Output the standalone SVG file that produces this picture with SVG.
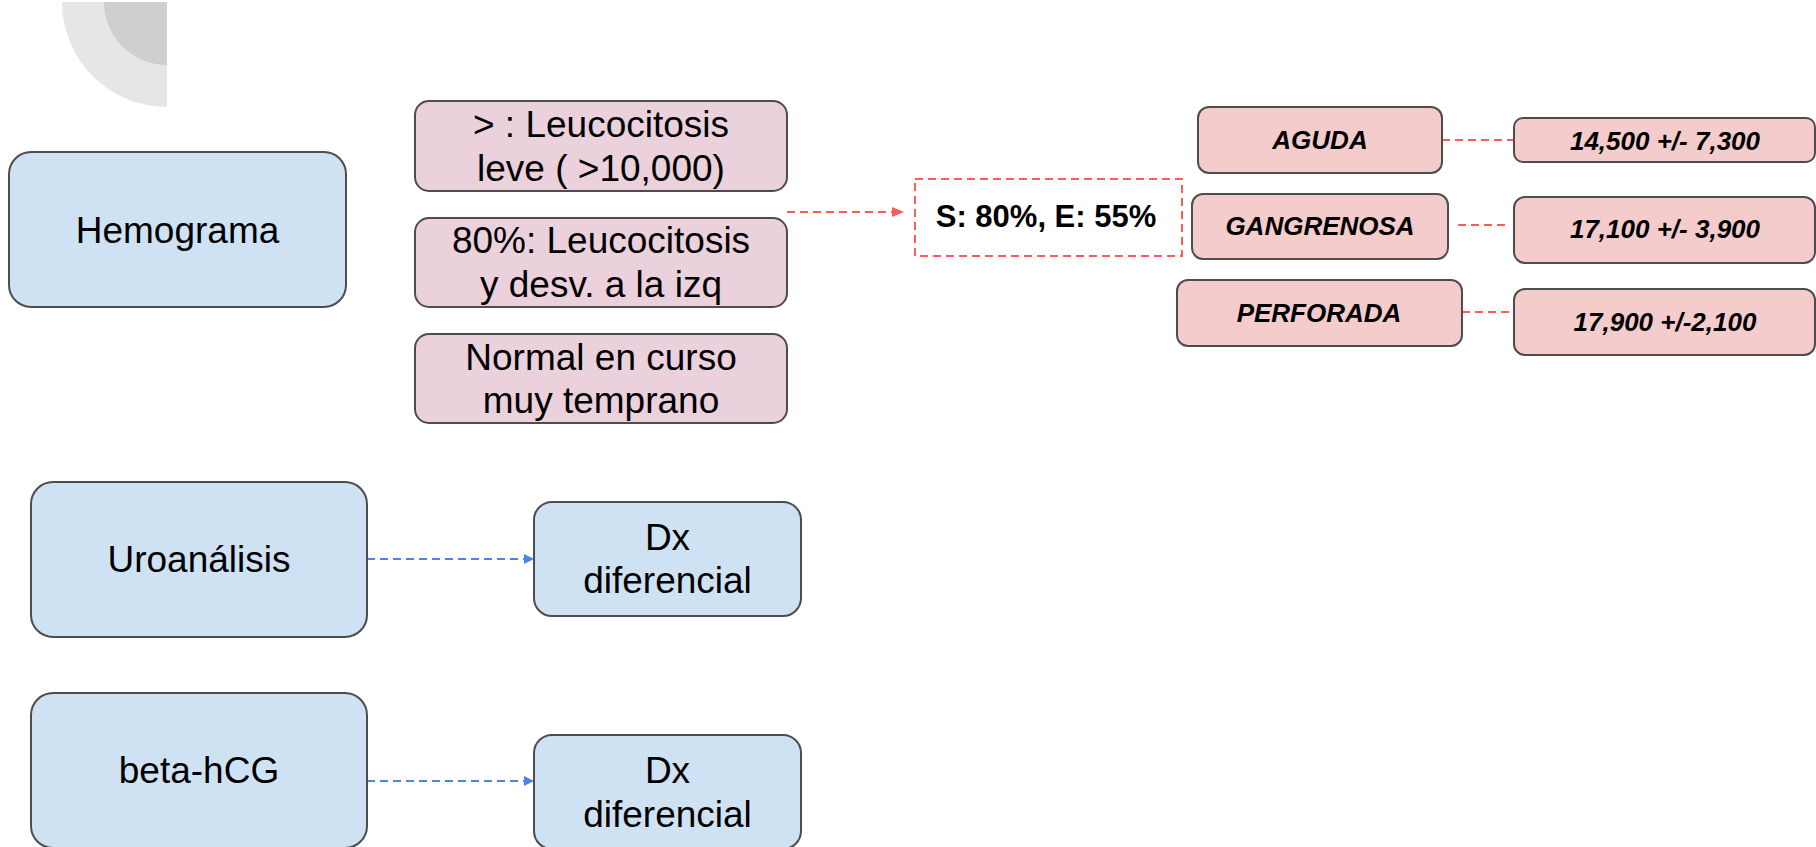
<svg xmlns="http://www.w3.org/2000/svg" width="1816" height="847" viewBox="0 0 1816 847">
<defs>
<style>
.blue{fill:#cfe2f3;stroke:#4d4d4d;stroke-width:2}
.pink{fill:#ead1dc;stroke:#4d4d4d;stroke-width:2}
.salmon{fill:#f4cccc;stroke:#4d4d4d;stroke-width:2}
.t{font-family:"Liberation Sans",Arial,sans-serif;font-size:37px;fill:#000;text-anchor:middle}
.bi{font-family:"Liberation Sans",Arial,sans-serif;font-size:26px;font-weight:bold;font-style:italic;fill:#000;text-anchor:middle}
.rd{stroke:#ff5b5b;stroke-width:2;stroke-dasharray:8 5;fill:none}
.bd{stroke:#4a86e8;stroke-width:2;stroke-dasharray:8 5;fill:none}
</style>
<marker id="ar" markerWidth="12" markerHeight="10" refX="12" refY="5" orient="auto" markerUnits="userSpaceOnUse"><path d="M0,0 L12,5 L0,10 Z" fill="#ff5b5b"/></marker>
<marker id="ab" markerWidth="10" markerHeight="10" refX="10" refY="5" orient="auto" markerUnits="userSpaceOnUse"><path d="M0,0 L10,5 L0,10 Z" fill="#4a86e8"/></marker>
</defs>
<rect width="1816" height="847" fill="#fff"/>
<g id="decor">
<path d="M167,2 L62,2 A105,105 0 0 0 167,107 Z" fill="#e6e6e6"/>
<path d="M167,2 L104,2 A63,63 0 0 0 167,65 Z" fill="#cfcfcf"/>
</g>
<g id="connectors">
<line class="rd" x1="787" y1="212" x2="904" y2="212" marker-end="url(#ar)"/>
<line class="rd" x1="1442" y1="140" x2="1514" y2="140"/>
<line class="rd" x1="1458" y1="225" x2="1510" y2="225"/>
<line class="rd" x1="1462" y1="312" x2="1514" y2="312"/>
<line class="bd" x1="367" y1="559" x2="534" y2="559" marker-end="url(#ab)"/>
<line class="bd" x1="367" y1="781" x2="534" y2="781" marker-end="url(#ab)"/>
</g>
<g id="hemograma"><rect class="blue" x="9" y="152" width="337" height="155" rx="22"/><text class="t" x="177.5" y="243">Hemograma</text></g>
<g id="leuco1"><rect class="pink" x="415" y="101" width="372" height="90" rx="14"/><text class="t" x="601" y="137">&gt; : Leucocitosis</text><text class="t" x="601" y="181">leve ( &gt;10,000)</text></g>
<g id="leuco2"><rect class="pink" x="415" y="218" width="372" height="89" rx="14"/><text class="t" x="601" y="253">80%: Leucocitosis</text><text class="t" x="601" y="297">y desv. a la izq</text></g>
<g id="normal"><rect class="pink" x="415" y="334" width="372" height="89" rx="14"/><text class="t" x="601" y="370">Normal en curso</text><text class="t" x="601" y="413">muy temprano</text></g>
<g id="sens"><rect class="rd" x="915" y="179" width="267" height="77"/><text x="1046" y="227" font-family="'Liberation Sans',Arial,sans-serif" font-size="31" font-weight="bold" text-anchor="middle">S: 80%, E: 55%</text></g>
<g id="aguda"><rect class="salmon" x="1198" y="107" width="244" height="66" rx="11"/><text class="bi" x="1320" y="149">AGUDA</text></g>
<g id="gangrenosa"><rect class="salmon" x="1192" y="194" width="256" height="65" rx="11"/><text class="bi" x="1320" y="235">GANGRENOSA</text></g>
<g id="perforada"><rect class="salmon" x="1177" y="280" width="285" height="66" rx="11"/><text class="bi" x="1319" y="322">PERFORADA</text></g>
<g id="v1"><rect class="salmon" x="1514" y="118" width="301" height="44" rx="9"/><text class="bi" x="1665" y="150">14,500 +/- 7,300</text></g>
<g id="v2"><rect class="salmon" x="1514" y="197" width="301" height="66" rx="11"/><text class="bi" x="1665" y="238">17,100 +/- 3,900</text></g>
<g id="v3"><rect class="salmon" x="1514" y="289" width="301" height="66" rx="11"/><text class="bi" x="1665" y="331">17,900 +/-2,100</text></g>
<g id="uro"><rect class="blue" x="31" y="482" width="336" height="155" rx="22"/><text class="t" x="199" y="572">Uroanálisis</text></g>
<g id="dx1"><rect class="blue" x="534" y="502" width="267" height="114" rx="18"/><text class="t" x="667.5" y="550">Dx</text><text class="t" x="667.5" y="593">diferencial</text></g>
<g id="beta"><rect class="blue" x="31" y="693" width="336" height="155" rx="22"/><text class="t" x="199" y="783">beta-hCG</text></g>
<g id="dx2"><rect class="blue" x="534" y="735" width="267" height="114" rx="18"/><text class="t" x="667.5" y="783">Dx</text><text class="t" x="667.5" y="827">diferencial</text></g>
</svg>
